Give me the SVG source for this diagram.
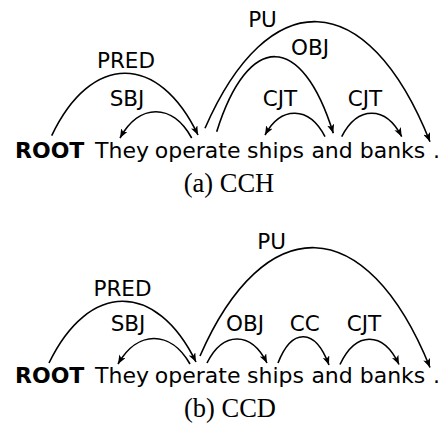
<svg xmlns="http://www.w3.org/2000/svg" width="443" height="424" viewBox="0 0 443 424">
<defs>
<style>
.w{font-family:"DejaVu Sans",sans-serif;font-size:22px;fill:#000}
.b{font-weight:bold}
.lbl{font-family:"DejaVu Sans",sans-serif;font-size:21.5px;fill:#000;text-anchor:middle}
.cap{font-family:"Liberation Serif",serif;font-size:26.5px;fill:#000;text-anchor:middle}
.arc{fill:none;stroke:#000;stroke-width:1.6;marker-end:url(#ah)}
</style>
<marker id="ah" markerUnits="userSpaceOnUse" viewBox="0 0 10 8" markerWidth="9" markerHeight="7.2" refX="10" refY="4" orient="auto">
<path d="M0,0 L10,4 L0,8 L2.5,4 Z" fill="#000"/>
</marker>
</defs>
<rect width="443" height="424" fill="#fff"/>

<!-- Panel (a) -->
<g id="a-words">
<g id="a-root"><text class="w b" x="15" y="157.7">ROOT</text></g>
<g id="a-they"><text class="w" x="95" y="157.7">They</text></g>
<g id="a-operate"><text class="w" x="154.8" y="157.7">operate</text></g>
<g id="a-ships"><text class="w" x="247" y="157.7">ships</text></g>
<g id="a-and"><text class="w" x="311.4" y="157.7">and</text></g>
<g id="a-banks"><text class="w" x="359.7" y="157.7">banks</text></g>
<g id="a-dot"><text class="w" x="433" y="157.7">.</text></g>
</g>
<g id="a-connectors">
<path class="arc" d="M51.7,135.7 C91.2,52.6 158.5,52.6 198,135"/>
<path class="arc" d="M191.7,138 C172.3,102.9 139.4,102.9 120,138"/>
<path class="arc" d="M205,128.3 C268,-16.1 367,-16.1 430,141.7"/>
<path class="arc" d="M216.7,131.7 C248.2,31.4 301.8,31.4 333.3,133.3"/>
<path class="arc" d="M325,136.7 C309,105.8 281,105.8 265,135"/>
<path class="arc" d="M341.7,136.7 C357.7,105.5 385.7,105.5 401.7,136.7"/>
<text class="lbl" x="126" y="68.3">PRED</text>
<text class="lbl" x="127" y="105.8">SBJ</text>
<text class="lbl" x="262.5" y="26.7">PU</text>
<text class="lbl" x="310" y="55">OBJ</text>
<text class="lbl" x="280" y="105.8">CJT</text>
<text class="lbl" x="365" y="105.8">CJT</text>
</g>
<g id="a-caption"><text class="cap" x="229" y="191.7">(a) CCH</text></g>

<!-- Panel (b) -->
<g id="b-words">
<g id="b-root"><text class="w b" x="15" y="383.3">ROOT</text></g>
<g id="b-they"><text class="w" x="95" y="383.3">They</text></g>
<g id="b-operate"><text class="w" x="154.8" y="383.3">operate</text></g>
<g id="b-ships"><text class="w" x="247" y="383.3">ships</text></g>
<g id="b-and"><text class="w" x="311.4" y="383.3">and</text></g>
<g id="b-banks"><text class="w" x="359.7" y="383.3">banks</text></g>
<g id="b-dot"><text class="w" x="433" y="383.3">.</text></g>
</g>
<g id="b-connectors">
<path class="arc" d="M49,363 C88.7,280.9 156.3,280.9 196,362"/>
<path class="arc" d="M190,364 C170.6,330 137.4,330 118,364"/>
<path class="arc" d="M200,356 C264,209.7 366,209.7 430,367.5"/>
<path class="arc" d="M207,363 C223,331 251,331 267,363"/>
<path class="arc" d="M278,363 C291.8,327.6 315.2,327.6 329,365"/>
<path class="arc" d="M340,364.5 C356,330.9 383,330.9 399,364.5"/>
<text class="lbl" x="122.5" y="295.7">PRED</text>
<text class="lbl" x="128" y="331">SBJ</text>
<text class="lbl" x="271.7" y="249">PU</text>
<text class="lbl" x="245" y="330.5">OBJ</text>
<text class="lbl" x="304.7" y="330.5">CC</text>
<text class="lbl" x="364" y="330.5">CJT</text>
</g>
<g id="b-caption"><text class="cap" x="230" y="417.3">(b) CCD</text></g>
</svg>
